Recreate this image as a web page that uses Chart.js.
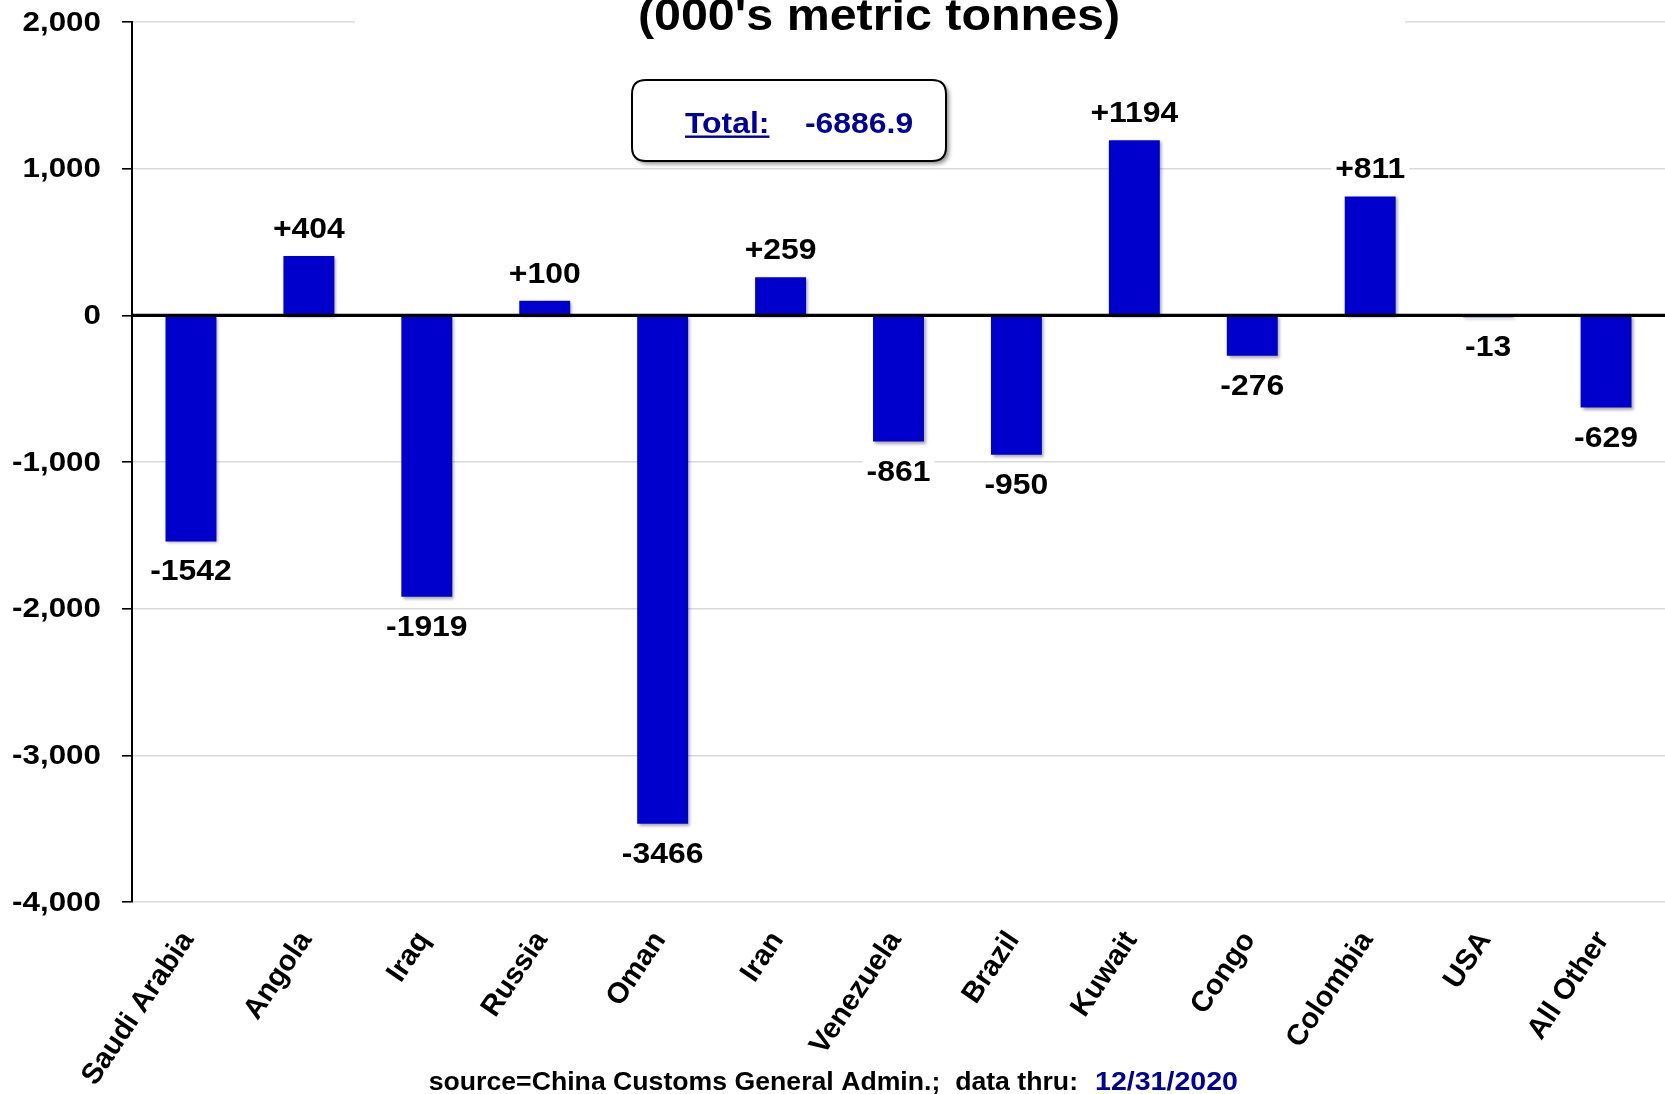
<!DOCTYPE html>
<html>
<head>
<meta charset="utf-8">
<script src="https://cdn.jsdelivr.net/npm/chart.js@4.4.1/dist/chart.umd.min.js"></script>
<style>
    body { margin: 0; background: #fff; }
    #wrap { width: 1665px; height: 1094px; }
</style>
</head>
<body>
<div id="wrap"><canvas id="importCanvas" width="1665" height="1094"></canvas></div>
<script>

var countries = ['Saudi Arabia', 'Angola', 'Iraq', 'Russia', 'Oman', 'Iran', 'Venezuela',
    'Brazil', 'Kuwait', 'Congo', 'Colombia', 'USA', 'All Other'];
var changes = [-1542, 404, -1919, 100, -3466, 259, -861, -950, 1194, -276, 811, -13, -629];
var yTicks = [-4000, -3000, -2000, -1000, 0, 1000, 2000];
var titleText = "(000's metric tonnes)";
var totalLabel = 'Total:';
var totalValue = '-6886.9';
var sourceText = 'source=China Customs General Admin.;  data thru:';
var sourceDate = '12/31/2020';

var FONT = "'Liberation Sans', Arial, sans-serif";
var BLUE = '#0000CC';
var NAVY = '#000099';
var STRETCH = 1.1;

// text a bit wider than the stock font, like the original
var wideText = function (ctx, text, x, y, align, stretch) {
    var s = stretch ? stretch : STRETCH;
    var w = ctx.measureText(text).width * s;
    var left = x;
    if (align == 'center') left = x - w / 2;
    if (align == 'right') left = x - w;
    ctx.save();
    ctx.translate(left, y);
    ctx.scale(s, 1);
    ctx.textAlign = 'left';
    ctx.fillText(text, 0, 0);
    ctx.restore();
    return w;
};

var roundRect = function (ctx, x, y, w, h, r) {
    ctx.beginPath();
    ctx.moveTo(x + r, y);
    ctx.lineTo(x + w - r, y);
    ctx.quadraticCurveTo(x + w, y, x + w, y + r);
    ctx.lineTo(x + w, y + h - r);
    ctx.quadraticCurveTo(x + w, y + h, x + w - r, y + h);
    ctx.lineTo(x + r, y + h);
    ctx.quadraticCurveTo(x, y + h, x, y + h - r);
    ctx.lineTo(x, y + r);
    ctx.quadraticCurveTo(x, y, x + r, y);
    ctx.closePath();
};

function $each(list, fn) {
    for (var i = 0; i < list.length; i++) fn(i, list[i]);
}

var barShadow = {
    id: 'barShadow',
    beforeDatasetsDraw: function (chart) {
        var ctx = chart.ctx;
        ctx.save();
        ctx.shadowColor = 'rgba(0,0,0,0.35)';
        ctx.shadowOffsetX = 2;
        ctx.shadowOffsetY = 2;
        ctx.shadowBlur = 3;
    },
    afterDatasetsDraw: function (chart) {
        chart.ctx.restore();
    }
};

var extras = {
    id: 'extras',
    afterDatasetsDraw: function (chart) {
        var ctx = chart.ctx;
        var area = chart.chartArea;
        var x = chart.scales.x;
        var y = chart.scales.y;

        ctx.save();

        // zero line over the bars
        var y0 = y.getPixelForValue(0);
        ctx.strokeStyle = '#000';
        ctx.lineWidth = 3.4;
        ctx.beginPath();
        ctx.moveTo(area.left, y0);
        ctx.lineTo(chart.width, y0);
        ctx.stroke();

        // y tick labels
        ctx.fillStyle = '#000';
        ctx.font = 'bold 28px ' + FONT;
        ctx.textBaseline = 'middle';
        $each(yTicks, function (i, v) {
            wideText(ctx, v.toLocaleString('en-US'), 101, y.getPixelForValue(v) + 1, 'right', 1.12);
        });

        // category labels, rotated
        ctx.font = 'bold 29px ' + FONT;
        ctx.textBaseline = 'middle';
        ctx.textAlign = 'right';
        $each(countries, function (i, name) {
            ctx.save();
            ctx.translate(x.getPixelForValue(i) - 3, 935);
            ctx.rotate(-56 * Math.PI / 180);
            ctx.fillText(name, 0, 0);
            ctx.restore();
        });

        // value labels
        ctx.font = 'bold 29px ' + FONT;
        ctx.textBaseline = 'alphabetic';
        var meta = chart.getDatasetMeta(0);
        $each(meta.data, function (i, bar) {
            var v = changes[i];
            var txt = v > 0 ? '+' + v : '' + v;
            var base = v >= 0 ? bar.y - 18 : bar.y + 39;
            var w = ctx.measureText(txt).width * STRETCH;
            ctx.fillStyle = '#fff';
            ctx.fillRect(bar.x - w / 2 - 4, base - 24, w + 8, 28);
            ctx.fillStyle = '#000';
            wideText(ctx, txt, bar.x, base, 'center');
        });

        // title (upper line is off the picture)
        ctx.fillStyle = '#fff';
        ctx.fillRect(355, 0, 1050, 44);
        ctx.fillStyle = '#000';
        ctx.font = 'bold 44px ' + FONT;
        wideText(ctx, titleText, 879, 30, 'center');

        // total box
        ctx.save();
        ctx.shadowColor = 'rgba(0,0,0,0.45)';
        ctx.shadowOffsetX = 3;
        ctx.shadowOffsetY = 3;
        ctx.shadowBlur = 4;
        roundRect(ctx, 632, 80, 314, 81, 14);
        ctx.fillStyle = '#fff';
        ctx.fill();
        ctx.restore();
        roundRect(ctx, 632, 80, 314, 81, 14);
        ctx.strokeStyle = '#000';
        ctx.lineWidth = 2;
        ctx.stroke();

        ctx.font = 'bold 29px ' + FONT;
        ctx.fillStyle = NAVY;
        var tw = wideText(ctx, totalLabel, 685, 133, 'left');
        ctx.fillRect(685, 135.5, tw, 2.4);
        wideText(ctx, totalValue, 805, 133, 'left');

        // source line
        ctx.font = 'bold 25.5px ' + FONT;
        ctx.fillStyle = '#000';
        wideText(ctx, sourceText, 1078, 1090, 'right', 1.045);
        ctx.fillStyle = NAVY;
        wideText(ctx, sourceDate, 1095, 1090, 'left', 1.12);

        ctx.restore();
    }
};

var ctx = document.getElementById('importCanvas').getContext('2d');

new Chart(ctx, {
    type: 'bar',
    data: {
        labels: countries,
        datasets: [{
            data: changes,
            backgroundColor: BLUE,
            borderWidth: 0,
            barPercentage: 0.432,
            categoryPercentage: 1.0
        }]
    },
    options: {
        responsive: false,
        animation: false,
        devicePixelRatio: 1,
        layout: { padding: { top: 22, right: 0, left: 0, bottom: 0 } },
        plugins: {
            legend: { display: false },
            title: { display: false },
            tooltip: { enabled: false }
        },
        scales: {
            x: {
                grid: { display: false, drawTicks: false },
                border: { display: false },
                ticks: {
                    // drawn by the extras plugin
                    color: 'rgba(0,0,0,0)',
                    font: { family: FONT, size: 29, weight: 'bold' },
                    minRotation: 56,
                    maxRotation: 56,
                    autoSkip: false
                },
                afterFit: function (scale) {
                    scale.height = 192;
                    scale.paddingLeft = 0;
                    scale.paddingRight = 0;
                }
            },
            y: {
                min: yTicks[0],
                max: yTicks[yTicks.length - 1],
                afterBuildTicks: function (scale) {
                    scale.ticks = yTicks.map(function (v) { return { value: v }; });
                },
                grid: {
                    color: function (c) { return c.tick && c.tick.value === 0 ? '#000' : '#d9d9d9'; },
                    lineWidth: 1.6,
                    tickColor: '#000',
                    tickLength: 10
                },
                border: { display: true, color: '#000', width: 2 },
                ticks: {
                    // drawn by the extras plugin
                    color: 'rgba(0,0,0,0)',
                    font: { family: FONT, size: 28, weight: 'bold' },
                    padding: 20
                },
                afterFit: function (scale) {
                    scale.width = 132;
                    scale.paddingTop = 0;
                    scale.paddingBottom = 0;
                }
            }
        }
    },
    plugins: [barShadow, extras]
});
</script>
</body>
</html>
